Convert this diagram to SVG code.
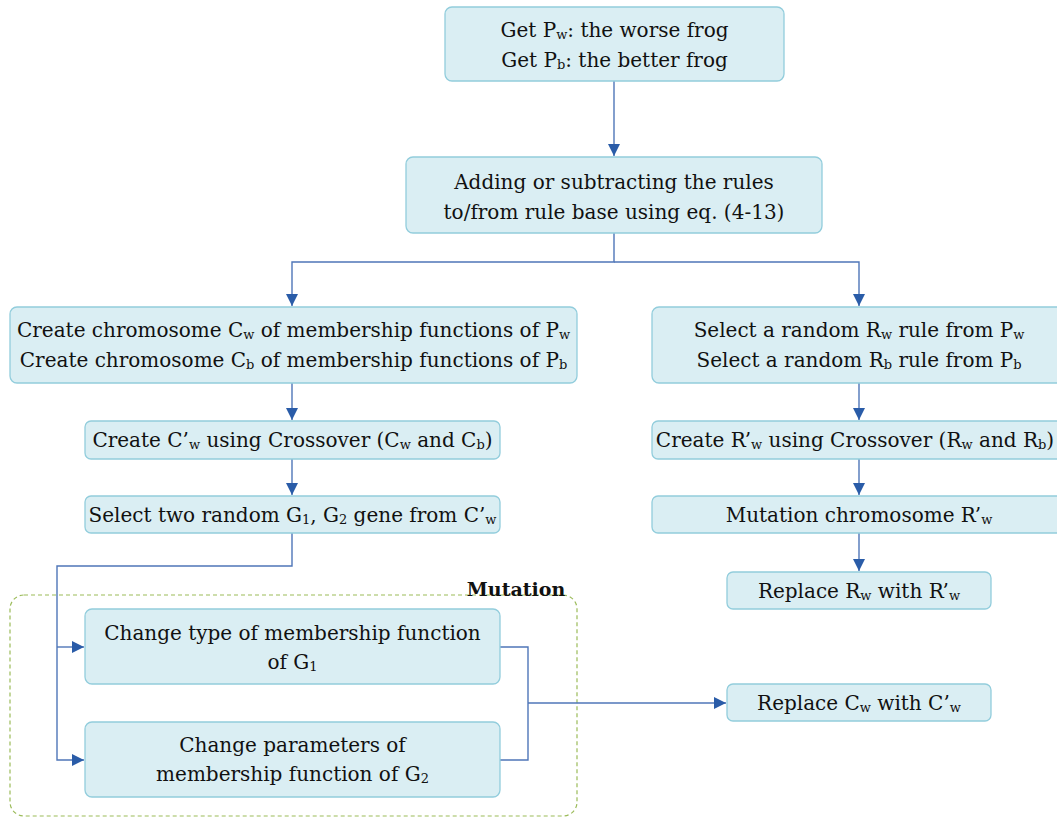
<svg xmlns="http://www.w3.org/2000/svg" width="1057" height="818" viewBox="0 0 1057 818">
<style>
.box{fill:#daeef3;stroke:#92cddc;stroke-width:1.3}
.t{font-family:"DejaVu Serif",serif;font-size:20px;fill:#111;text-anchor:middle}
.s{font-size:13px}
.c{fill:none;stroke:#4f76b8;stroke-width:1.4}
</style>
<defs>
<marker id="a" viewBox="0 0 12 12" refX="12" refY="6" markerWidth="12" markerHeight="12" markerUnits="userSpaceOnUse" orient="auto">
<path d="M0,0 L12,6 L0,12 Z" fill="#2a5ca8"/>
</marker>
</defs>
<rect width="1057" height="818" fill="#fff"/>
<g id="mutation-group">
<rect x="10" y="595" width="567" height="221" rx="14" fill="none" stroke="#9bbb59" stroke-width="1.2" stroke-dasharray="4,3"/>
<text x="516" y="596" style="font-family:'DejaVu Serif',serif;font-size:19px;font-weight:bold;text-anchor:middle;fill:#111">Mutation</text>
</g>
<g id="connectors">
<path class="c" d="M614,81 V156" marker-end="url(#a)"/>
<path class="c" d="M614,233 V262 H292 V306" marker-end="url(#a)"/>
<path class="c" d="M614,262 H859 V306" marker-end="url(#a)"/>
<path class="c" d="M292,383 V420" marker-end="url(#a)"/>
<path class="c" d="M292,459 V495" marker-end="url(#a)"/>
<path class="c" d="M292,533 V566 H57 V760 H84" marker-end="url(#a)"/>
<path class="c" d="M57,647 H84" marker-end="url(#a)"/>
<path class="c" d="M500,647 H528 V760 H500"/>
<path class="c" d="M528,703 H726" marker-end="url(#a)"/>
<path class="c" d="M859,383 V420" marker-end="url(#a)"/>
<path class="c" d="M859,459 V495" marker-end="url(#a)"/>
<path class="c" d="M859,533 V571" marker-end="url(#a)"/>
</g>
<g id="n1">
<rect class="box" x="445" y="7" width="339" height="74" rx="7"/>
<text class="t" x="614.5" y="37">Get P<tspan class="s" dy="2">w</tspan><tspan dy="-2">: the worse frog</tspan></text>
<text class="t" x="614.5" y="67">Get P<tspan class="s" dy="2">b</tspan><tspan dy="-2">: the better frog</tspan></text>
</g>
<g id="n2">
<rect class="box" x="406" y="157" width="416" height="76" rx="7"/>
<text class="t" x="614" y="189">Adding or subtracting the rules</text>
<text class="t" x="614" y="219">to/from rule base using eq. (4-13)</text>
</g>
<g id="n3">
<rect class="box" x="10" y="307" width="567" height="76" rx="7"/>
<text class="t" x="293.5" y="337">Create chromosome C<tspan class="s" dy="2">w</tspan><tspan dy="-2"> of membership functions of P</tspan><tspan class="s" dy="2">w</tspan></text>
<text class="t" x="293.5" y="367">Create chromosome C<tspan class="s" dy="2">b</tspan><tspan dy="-2"> of membership functions of  P</tspan><tspan class="s" dy="2">b</tspan></text>
</g>
<g id="n4">
<rect class="box" x="652" y="307" width="412" height="76" rx="7"/>
<text class="t" x="859" y="337">Select a random R<tspan class="s" dy="2">w</tspan><tspan dy="-2"> rule from P</tspan><tspan class="s" dy="2">w</tspan></text>
<text class="t" x="859" y="367">Select a random R<tspan class="s" dy="2">b</tspan><tspan dy="-2"> rule from P</tspan><tspan class="s" dy="2">b</tspan></text>
</g>
<g id="n5">
<rect class="box" x="85" y="421" width="415" height="38" rx="6"/>
<text class="t" x="292.5" y="447">Create C’<tspan class="s" dy="2">w</tspan><tspan dy="-2"> using Crossover (C</tspan><tspan class="s" dy="2">w</tspan><tspan dy="-2"> and C</tspan><tspan class="s" dy="2">b</tspan><tspan dy="-2">)</tspan></text>
</g>
<g id="n6">
<rect class="box" x="85" y="496" width="415" height="37" rx="6"/>
<text class="t" x="292.5" y="522">Select two random G<tspan class="s" dy="2">1</tspan><tspan dy="-2">, G</tspan><tspan class="s" dy="2">2</tspan><tspan dy="-2"> gene from C’</tspan><tspan class="s" dy="2">w</tspan></text>
</g>
<g id="n7">
<rect class="box" x="652" y="421" width="412" height="38" rx="6"/>
<text class="t" x="855" y="447">Create R’<tspan class="s" dy="2">w</tspan><tspan dy="-2"> using Crossover (R</tspan><tspan class="s" dy="2">w</tspan><tspan dy="-2"> and R</tspan><tspan class="s" dy="2">b</tspan><tspan dy="-2">)</tspan></text>
</g>
<g id="n8">
<rect class="box" x="652" y="496" width="412" height="37" rx="6"/>
<text class="t" x="859" y="522">Mutation chromosome R’<tspan class="s" dy="2">w</tspan></text>
</g>
<g id="n9">
<rect class="box" x="727" y="572" width="264" height="37" rx="6"/>
<text class="t" x="859" y="598">Replace R<tspan class="s" dy="2">w</tspan><tspan dy="-2"> with R’</tspan><tspan class="s" dy="2">w</tspan></text>
</g>
<g id="n10">
<rect class="box" x="85" y="609" width="415" height="75" rx="7"/>
<text class="t" x="292.5" y="640">Change type of membership function</text>
<text class="t" x="292.5" y="669">of G<tspan class="s" dy="2">1</tspan></text>
</g>
<g id="n11">
<rect class="box" x="85" y="722" width="415" height="75" rx="7"/>
<text class="t" x="292.5" y="752">Change parameters of</text>
<text class="t" x="292.5" y="781">membership function of G<tspan class="s" dy="2">2</tspan></text>
</g>
<g id="n12">
<rect class="box" x="727" y="684" width="264" height="37" rx="6"/>
<text class="t" x="859" y="710">Replace C<tspan class="s" dy="2">w</tspan><tspan dy="-2"> with C’</tspan><tspan class="s" dy="2">w</tspan></text>
</g>
</svg>
